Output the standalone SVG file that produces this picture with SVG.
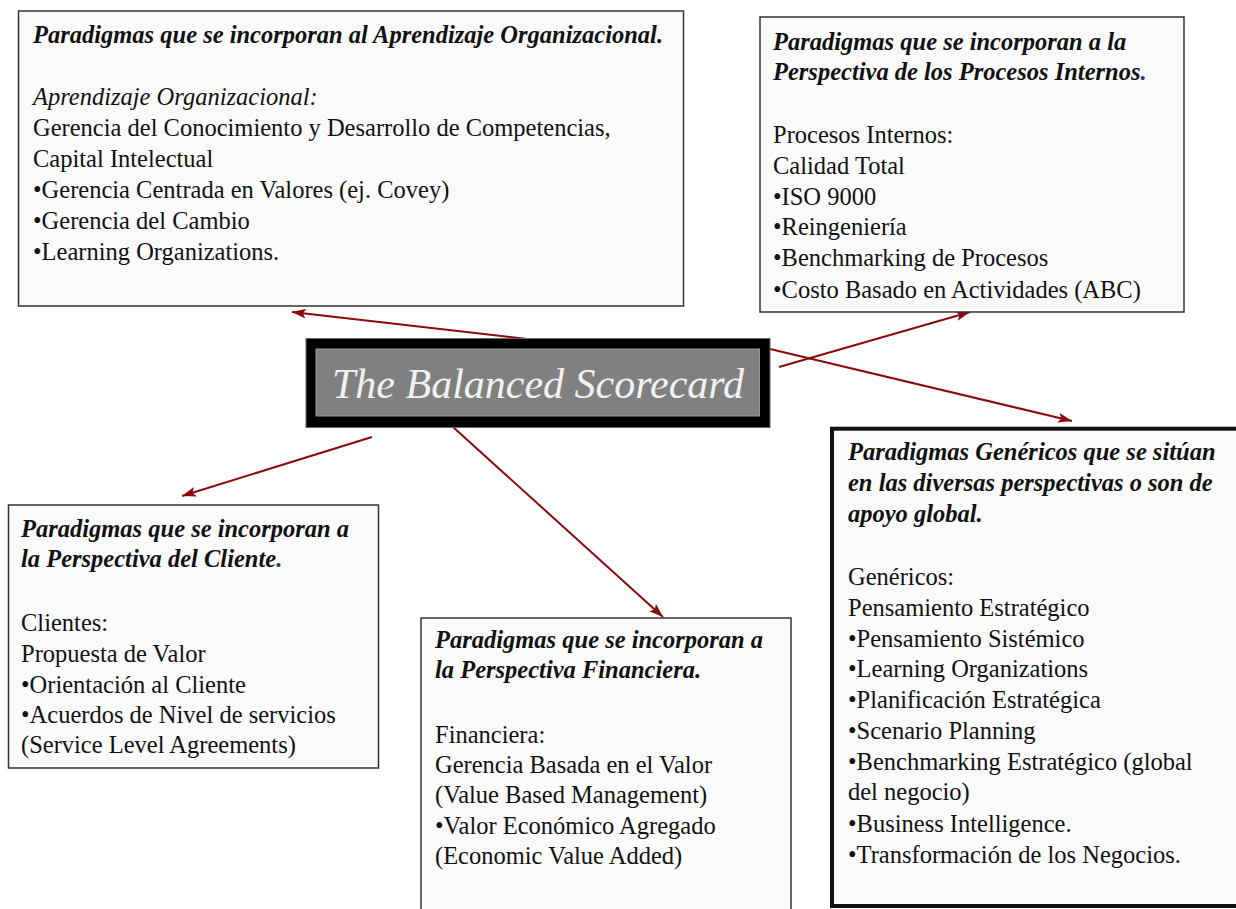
<svg xmlns="http://www.w3.org/2000/svg" width="1236" height="909" viewBox="0 0 1236 909">
<style>
.box{fill:#fafafa;stroke:#333;stroke-width:1.5}
.boxk{fill:#fafafa;stroke:#111;stroke-width:4}
text{font-family:"Liberation Serif","Times New Roman",serif;font-size:24.5px;fill:#111}
.t{font-weight:bold;font-style:italic}
.i{font-style:italic}
.blue{fill:#1f3f80}
.con{stroke:#8b0a0a;stroke-width:2;fill:none;marker-end:url(#ah)}
.center{font-size:42px;font-style:italic;fill:#f2f2f2}
</style>
<defs>
<marker id="ah" markerUnits="userSpaceOnUse" markerWidth="16" markerHeight="12" refX="14" refY="5" orient="auto">
<path d="M0,0 L14,5 L0,10 L3,5 z" fill="#8b0a0a"/>
</marker>
</defs>
<rect width="1236" height="909" fill="#ffffff"/>

<g id="connectors">
<line class="con" x1="527" y1="339" x2="292" y2="312"/>
<line class="con" x1="779" y1="367" x2="970" y2="312"/>
<line class="con" x1="372" y1="437" x2="182" y2="496"/>
<line class="con" x1="453" y1="427" x2="663" y2="617"/>
<line class="con" x1="770" y1="349" x2="1072" y2="421"/>
</g>

<g id="aprendizaje">
<rect class="box" x="18.5" y="11" width="665" height="295"/>
<text x="33" y="43" class="t">Paradigmas que se incorporan al Aprendizaje Organizacional.</text>
<text x="33" y="105" class="i">Aprendizaje Organizacional:</text>
<text x="33" y="136">Gerencia del Conocimiento y Desarrollo de Competencias,</text>
<text x="33" y="167">Capital Intelectual</text>
<text x="33" y="198">•Gerencia Centrada en Valores (ej. Covey)</text>
<text x="33" y="229">•Gerencia del Cambio</text>
<text x="33" y="260">•Learning Organizations.</text>
</g>

<g id="procesos">
<rect class="box" x="760" y="17" width="424" height="295"/>
<text x="773" y="50" class="t">Paradigmas que se incorporan a la</text>
<text x="773" y="80" class="t">Perspectiva de los Procesos Internos<tspan class="blue">.</tspan></text>
<text x="773" y="143">Procesos Internos:</text>
<text x="773" y="174">Calidad Total</text>
<text x="773" y="205">•ISO 9000</text>
<text x="773" y="235">•Reingeniería</text>
<text x="773" y="266">•Benchmarking de Procesos</text>
<text x="773" y="298">•Costo Basado en Actividades (ABC)</text>
</g>

<g id="bsc">
<rect x="306" y="338.5" width="464" height="89" fill="#000" stroke="#666" stroke-width="1"/>
<rect x="316" y="349" width="443.5" height="67" fill="#808080" stroke="#999" stroke-width="1"/>
<text x="332" y="398" class="center">The Balanced Scorecard</text>
</g>

<g id="cliente">
<rect class="box" x="8.5" y="505" width="370" height="263"/>
<text x="21" y="537" class="t">Paradigmas que se incorporan a</text>
<text x="21" y="567" class="t">la Perspectiva del Cliente<tspan class="blue">.</tspan></text>
<text x="21" y="631">Clientes:</text>
<text x="21" y="662">Propuesta de Valor</text>
<text x="21" y="693">•Orientación al Cliente</text>
<text x="21" y="723">•Acuerdos de Nivel de servicios</text>
<text x="21" y="753">(Service Level Agreements)</text>
</g>

<g id="financiera">
<rect class="box" x="421" y="618" width="370" height="300"/>
<text x="435" y="648" class="t">Paradigmas que se incorporan a</text>
<text x="435" y="678" class="t">la Perspectiva Financiera.</text>
<text x="435" y="743">Financiera:</text>
<text x="435" y="773">Gerencia Basada en el Valor</text>
<text x="435" y="803">(Value Based Management)</text>
<text x="435" y="834">•Valor Económico Agregado</text>
<text x="435" y="864">(Economic Value Added)</text>
</g>

<g id="genericos">
<rect class="boxk" x="832" y="428.7" width="420" height="477.3"/>
<text x="848" y="460" class="t">Paradigmas Genéricos que se sitúan</text>
<text x="848" y="491" class="t">en las diversas perspectivas o son de</text>
<text x="848" y="522" class="t">apoyo global.</text>
<text x="848" y="585">Genéricos:</text>
<text x="848" y="616">Pensamiento Estratégico</text>
<text x="848" y="647">•Pensamiento Sistémico</text>
<text x="848" y="677">•Learning Organizations</text>
<text x="848" y="708">•Planificación Estratégica</text>
<text x="848" y="739">•Scenario Planning</text>
<text x="848" y="770">•Benchmarking Estratégico (global</text>
<text x="848" y="800">del negocio)</text>
<text x="848" y="832">•Business Intelligence.</text>
<text x="848" y="863">•Transformación de los Negocios.</text>
</g>
</svg>
